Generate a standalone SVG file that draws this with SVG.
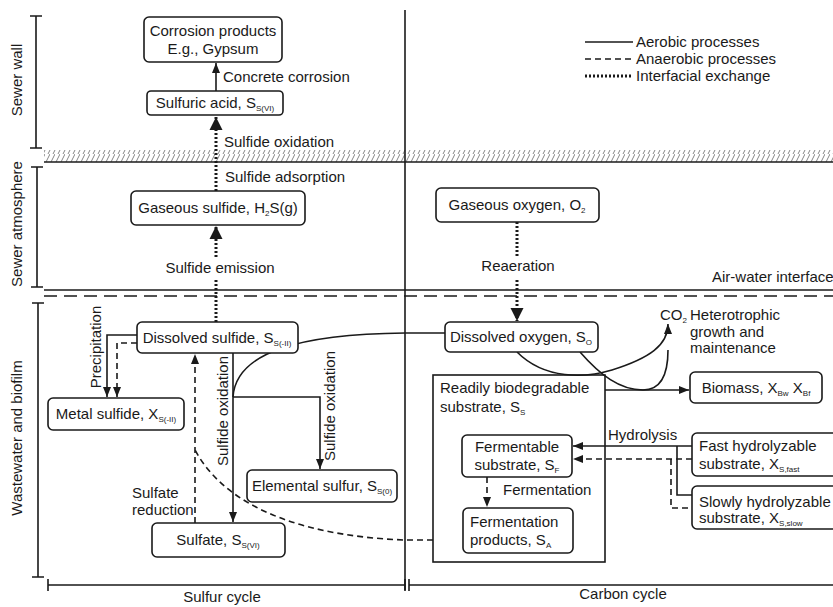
<svg xmlns="http://www.w3.org/2000/svg" width="833" height="607" viewBox="0 0 833 607">
<style>
.t{font-family:"Liberation Sans",Arial,sans-serif;font-size:15px;fill:#1a1a1a}
.m{text-anchor:middle}
.sub{font-size:8px}
.box{fill:#fff;stroke:#1a1a1a;stroke-width:1.6}
.ln{fill:none;stroke:#1a1a1a;stroke-width:1.6}
.da{stroke-dasharray:6,4}
.dt{fill:none;stroke:#1a1a1a;stroke-width:3;stroke-dasharray:2,2}
</style>
<defs>
<marker id="a" viewBox="0 0 10 8" refX="10" refY="4" markerWidth="10" markerHeight="8" markerUnits="userSpaceOnUse" orient="auto"><path d="M0,0 L10,4 L0,8 z" fill="#1a1a1a"/></marker>
<marker id="b" viewBox="0 0 14 14" refX="14" refY="7" markerWidth="13" markerHeight="14" markerUnits="userSpaceOnUse" orient="auto"><path d="M0,0 L14,7 L0,14 z" fill="#1a1a1a"/></marker>
<pattern id="h" width="5" height="14" patternUnits="userSpaceOnUse"><path d="M-2,14 L5,0 M3,14 L10,0" stroke="#666" stroke-width="0.8"/></pattern>
</defs>
<rect width="833" height="607" fill="#fff"/>

<g id="frame">
<rect x="44" y="150" width="789" height="12" fill="url(#h)"/>
<line x1="44" y1="162" x2="833" y2="162" class="ln" stroke-width="1.2"/>
<line x1="405" y1="10" x2="405" y2="590" class="ln" stroke-width="1.4"/>
<line x1="44" y1="290" x2="833" y2="290" class="ln"/>
<line x1="44" y1="296" x2="833" y2="296" class="ln" stroke-dasharray="13,7"/>
<path d="M30,16 H42 M36,16 V148 M30,148 H42" class="ln" stroke-width="1.4"/>
<path d="M31,167 H43 M37,167 V287 M31,287 H43" class="ln" stroke-width="1.4"/>
<path d="M32,303 H44 M38,303 V577 M32,577 H44" class="ln" stroke-width="1.4"/>
<path d="M48,585 H405 M48,579 V591 M405,579 V591 M409,579 V591 M409,585 H833" class="ln" stroke-width="1.4"/>
<text class="t m" transform="translate(17,80) rotate(-90)" y="5">Sewer wall</text>
<text class="t m" transform="translate(17,224) rotate(-90)" y="5">Sewer atmosphere</text>
<text class="t m" transform="translate(17,438) rotate(-90)" y="5">Wastewater and biofilm</text>
<text class="t m" x="222" y="602">Sulfur cycle</text>
<text class="t m" x="623" y="599">Carbon cycle</text>
<text class="t" x="712" y="282">Air-water interface</text>
</g>

<g id="legend">
<line x1="585" y1="42" x2="633" y2="42" class="ln"/>
<line x1="585" y1="59" x2="633" y2="59" class="ln da"/>
<line x1="585" y1="76" x2="633" y2="76" class="dt" stroke-width="2.5"/>
<text class="t" x="636" y="47">Aerobic processes</text>
<text class="t" x="636" y="64">Anaerobic processes</text>
<text class="t" x="636" y="81">Interfacial exchange</text>
</g>

<g id="connectors">
<line x1="216" y1="91" x2="216" y2="63" class="ln" marker-end="url(#a)"/>
<line x1="216" y1="191" x2="216" y2="117" class="dt" marker-end="url(#b)"/>
<line x1="216" y1="322" x2="216" y2="280" class="dt"/>
<line x1="216" y1="257" x2="216" y2="226" class="dt" marker-end="url(#b)"/>
<line x1="517" y1="222" x2="517" y2="256" class="dt"/>
<line x1="517" y1="280" x2="517" y2="321" class="dt" marker-end="url(#b)"/>
<path d="M137,335 H107 V397" class="ln" marker-end="url(#a)"/>
<path d="M137,343 H117 V397" class="ln da" marker-end="url(#a)"/>
<path d="M195,523 V354" class="ln da" marker-end="url(#a)"/>
<path d="M233,353 V522" class="ln" marker-end="url(#a)"/>
<path d="M233,397 H320 V469" class="ln" marker-end="url(#a)"/>
<path d="M233,397 C236,352 300,334 405,333 L445,333" class="ln"/>
<path d="M433,540 L405,540 C320,537 230,515 195,450" class="ln da"/>
<path d="M517,352 C545,380 585,378 612,370 C650,358 668,345 668,324" class="ln" marker-end="url(#a)"/>
<path d="M580,352 C600,375 620,390 643,390" class="ln"/>
<path d="M643,390 C662,390 668,372 668,350" class="ln"/>
<path d="M605,390 H689" class="ln" marker-end="url(#a)"/>
<path d="M692,446 H573" class="ln" marker-end="url(#a)"/>
<path d="M692,459 H573" class="ln da" marker-end="url(#a)"/>
<path d="M677,446 V495 H692" class="ln"/>
<path d="M671,459 V508 H692" class="ln da"/>
<path d="M487,477 V507" class="ln da" marker-end="url(#a)"/>
</g>

<g id="labels">
<text class="t" x="223" y="82">Concrete corrosion</text>
<text class="t" x="224" y="147">Sulfide oxidation</text>
<text class="t" x="225" y="182">Sulfide adsorption</text>
<text class="t m" x="220" y="273">Sulfide emission</text>
<text class="t m" x="518" y="271">Reaeration</text>
<text class="t m" transform="translate(96,347) rotate(-90)" y="5">Precipitation</text>
<text class="t m" transform="translate(223,411) rotate(-90)" y="5">Sulfide oxidation</text>
<text class="t m" transform="translate(330,406) rotate(-90)" y="5">Sulfide oxidation</text>
<text class="t" x="132" y="498">Sulfate</text>
<text class="t" x="132" y="515">reduction</text>
<text class="t" x="660" y="320">CO<tspan class="sub" dy="3">2</tspan></text>
<text class="t" x="690" y="320">Heterotrophic</text>
<text class="t" x="690" y="337">growth and</text>
<text class="t" x="690" y="353">maintenance</text>
<text class="t" x="608" y="440">Hydrolysis</text>
<text class="t" x="503" y="495">Fermentation</text>
</g>

<g id="corrosion">
<rect class="box" x="144" y="17" width="138" height="45" rx="5"/>
<text class="t m" x="213" y="36">Corrosion products</text>
<text class="t m" x="213" y="54">E.g., Gypsum</text>
</g>
<g id="sulfuric">
<rect class="box" x="147" y="91" width="136" height="24" rx="4"/>
<text class="t m" x="215" y="108">Sulfuric acid, S<tspan class="sub" dy="3">S(VI)</tspan></text>
</g>
<g id="gas-sulfide">
<rect class="box" x="131" y="191" width="174" height="34" rx="5"/>
<text class="t m" x="218" y="213">Gaseous sulfide, H<tspan class="sub" dy="3">2</tspan><tspan dy="-3">S(g)</tspan></text>
</g>
<g id="gas-oxygen">
<rect class="box" x="436" y="188" width="163" height="34" rx="5"/>
<text class="t m" x="517" y="210">Gaseous oxygen, O<tspan class="sub" dy="3">2</tspan></text>
</g>
<g id="dis-sulfide">
<rect class="box" x="137" y="322" width="161" height="31" rx="5"/>
<text class="t m" x="217" y="343">Dissolved sulfide, S<tspan class="sub" dy="3">S(-II)</tspan></text>
</g>
<g id="metal-sulfide">
<rect class="box" x="48" y="398" width="136" height="32" rx="5"/>
<text class="t m" x="116" y="419">Metal sulfide, X<tspan class="sub" dy="3">S(-II)</tspan></text>
</g>
<g id="elemental">
<rect class="box" x="247" y="470" width="150" height="32" rx="5"/>
<text class="t m" x="322" y="491">Elemental sulfur, S<tspan class="sub" dy="3">S(0)</tspan></text>
</g>
<g id="sulfate">
<rect class="box" x="152" y="523" width="133" height="34" rx="5"/>
<text class="t m" x="218" y="545">Sulfate, S<tspan class="sub" dy="3">S(VI)</tspan></text>
</g>
<g id="dis-oxygen">
<rect class="box" x="445" y="322" width="153" height="30" rx="5"/>
<text class="t m" x="521" y="342">Dissolved oxygen, S<tspan class="sub" dy="3">O</tspan></text>
</g>
<g id="readily">
<rect x="433" y="375" width="172" height="187" fill="none" stroke="#1a1a1a" stroke-width="1.6"/>
<text class="t" x="440" y="393">Readily biodegradable</text>
<text class="t" x="440" y="412">substrate, S<tspan class="sub" dy="3">S</tspan></text>
</g>
<g id="fermentable">
<rect class="box" x="462" y="435" width="110" height="42" rx="5"/>
<text class="t m" x="517" y="452">Fermentable</text>
<text class="t m" x="517" y="470">substrate, S<tspan class="sub" dy="3">F</tspan></text>
</g>
<g id="ferm-products">
<rect class="box" x="463" y="508" width="110" height="45" rx="5"/>
<text class="t" x="470" y="527">Fermentation</text>
<text class="t" x="470" y="545">products, S<tspan class="sub" dy="3">A</tspan></text>
</g>
<g id="biomass">
<rect class="box" x="690" y="372" width="132" height="31" rx="5"/>
<text class="t m" x="756" y="393">Biomass, X<tspan class="sub" dy="3">Bw</tspan><tspan dy="-3"> X</tspan><tspan class="sub" dy="3">Bf</tspan></text>
</g>
<g id="fast">
<rect class="box" x="692" y="433" width="155" height="43" rx="5"/>
<text class="t" x="699" y="451">Fast hydrolyzable</text>
<text class="t" x="699" y="469">substrate, X<tspan class="sub" dy="3">S,fast</tspan></text>
</g>
<g id="slow">
<rect class="box" x="692" y="486" width="155" height="43" rx="5"/>
<text class="t" x="699" y="507">Slowly hydrolyzable</text>
<text class="t" x="699" y="523">substrate, X<tspan class="sub" dy="3">S,slow</tspan></text>
</g>
</svg>
